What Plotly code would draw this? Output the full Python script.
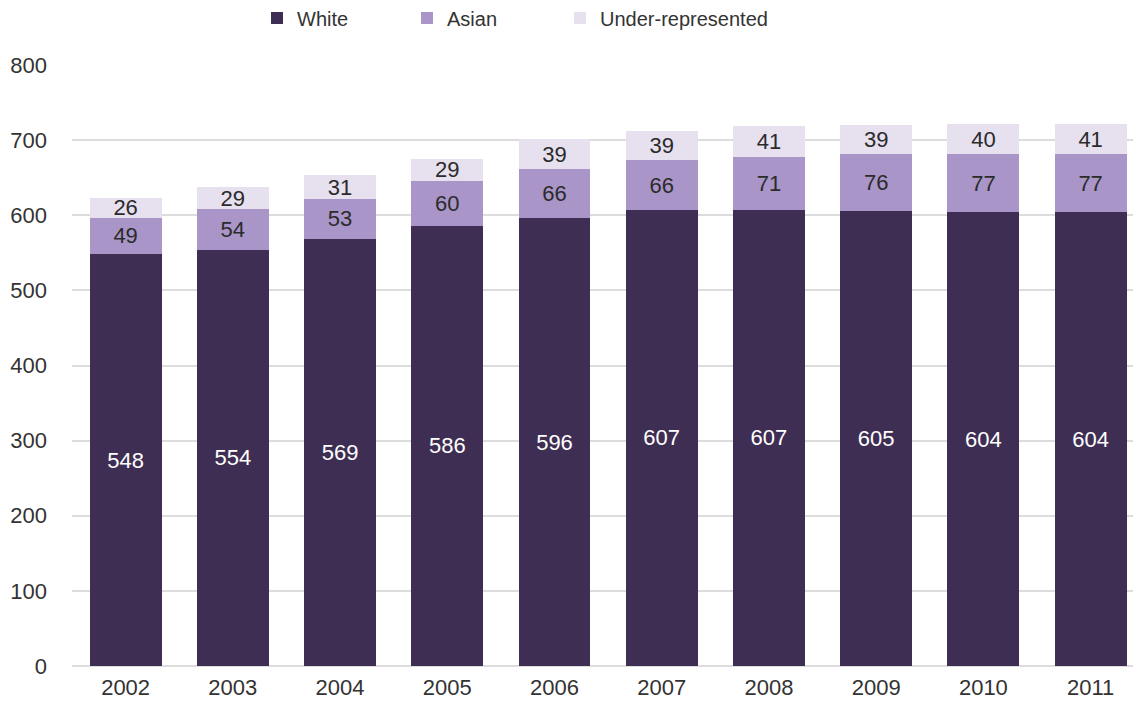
import plotly.graph_objects as go

years = ["2002", "2003", "2004", "2005", "2006", "2007", "2008", "2009", "2010", "2011"]
white = [548, 554, 569, 586, 596, 607, 607, 605, 604, 604]
asian = [49, 54, 53, 60, 66, 66, 71, 76, 77, 77]
under = [26, 29, 31, 29, 39, 39, 41, 39, 40, 41]

series = [
    ("White", white, "#3f2e53", "white", "legend"),
    ("Asian", asian, "#a995c7", "#2b2b2b", "legend2"),
    ("Under-represented", under, "#e7e0ef", "#2b2b2b", "legend3"),
]

FONT = "Liberation Sans, Arial, sans-serif"
W, H = 1133, 711

fig = go.Figure()
for name, vals, color, tcolor, leg in series:
    fig.add_trace(go.Bar(
        x=years, y=vals, name=name, legend=leg, showlegend=True,
        marker=dict(color=color, line=dict(width=0)),
        text=[str(v) for v in vals],
        textposition="inside", insidetextanchor="middle", textangle=0,
        textfont=dict(color=tcolor, size=22, family=FONT),
        constraintext="none", cliponaxis=False,
    ))

def legend_at(px):
    return dict(
        orientation="h", xref="container", x=px / W, xanchor="left",
        yref="container", y=1 - 10 / H, yanchor="middle",
        font=dict(size=20, color="#333333"), itemwidth=30,
        bgcolor="rgba(0,0,0,0)", visible=True,
    )

fig.update_layout(
    showlegend=True,
    barmode="stack",
    bargap=0.33,
    width=W, height=H,
    margin=dict(l=64, r=0, t=57, b=53, autoexpand=False),
    plot_bgcolor="white", paper_bgcolor="white",
    font=dict(family=FONT, size=22, color="#333333"),
    uniformtext=dict(minsize=22, mode="show"),
    legend=legend_at(249),
    legend2=legend_at(399),
    legend3=legend_at(552),
    xaxis=dict(
        range=[-0.5, 9.47], showgrid=False, showline=False, ticks="",
        tickfont=dict(size=22, color="#333333"), ticklabelstandoff=6,
    ),
    yaxis=dict(
        range=[0, 800], dtick=100, showgrid=True, gridcolor="#dcdcdc", gridwidth=1.5,
        zeroline=True, zerolinecolor="#dcdcdc", zerolinewidth=1.5,
        tickfont=dict(size=22, color="#333333"), ticklabelstandoff=24, ticks="",
    ),
)

fig.write_html("out.html")
